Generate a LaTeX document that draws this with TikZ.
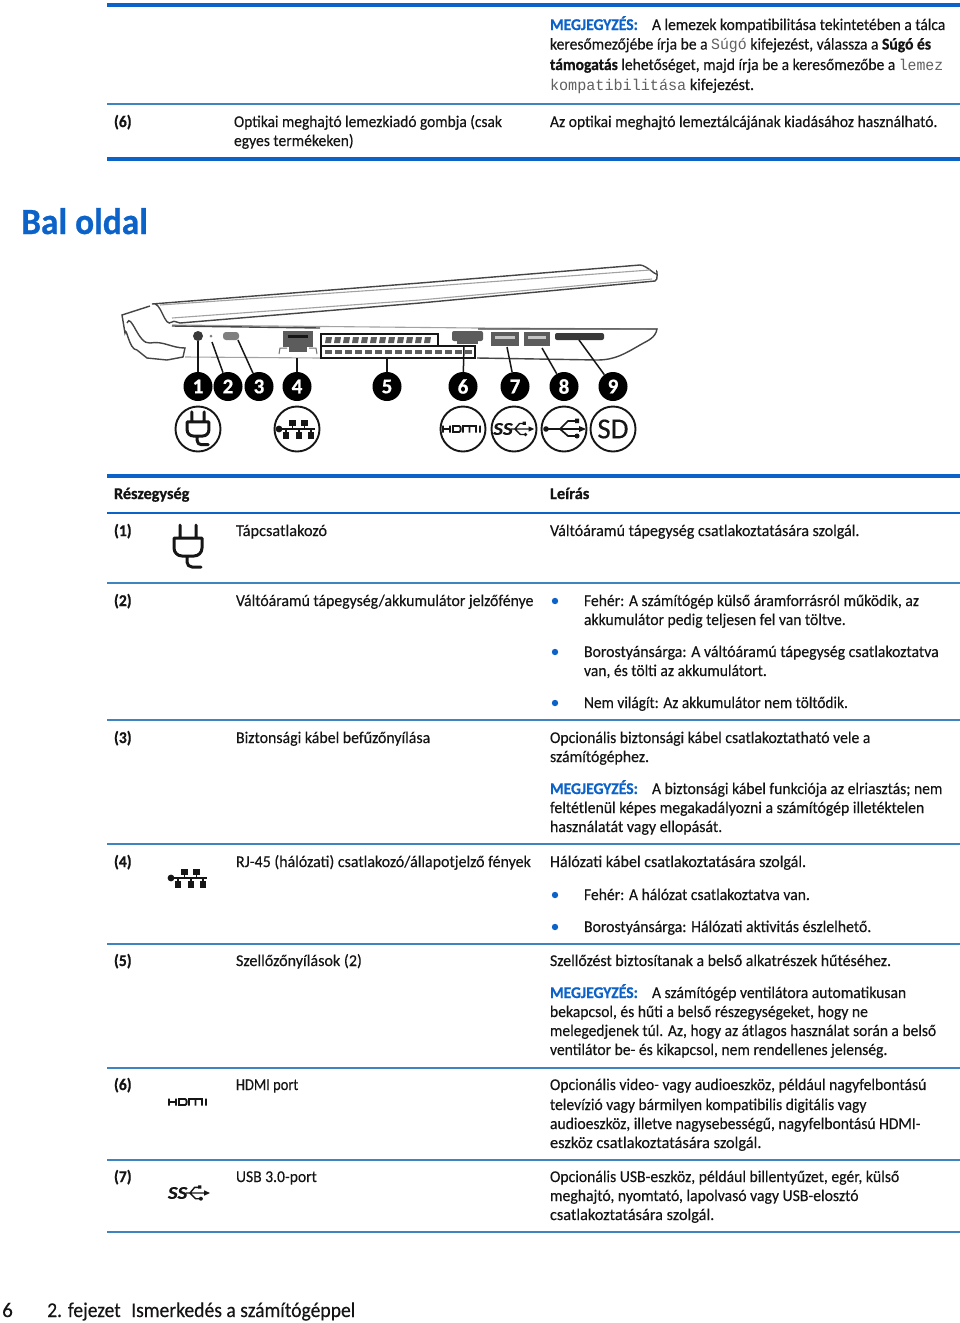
\documentclass[tikz,border=0pt]{standalone}
\usepackage{fontspec}
\usepackage{graphicx}
\setmainfont{Carlito}[FakeBold=0.25,BoldFeatures={FakeBold=0.7}]
\newfontfamily\codefont{Liberation Mono}
\definecolor{hpblue}{HTML}{0B62C8}
\definecolor{rulethin}{HTML}{3F84BE}
\definecolor{inktext}{HTML}{141414}
\definecolor{codegray}{HTML}{606060}
\definecolor{ink}{HTML}{161616}
\newcounter{tn}
\newcommand{\bodysize}{\fontsize{16.4}{19}\selectfont}
\newcommand{\TL}[4][0.952]{\stepcounter{tn}\node[txt] (t\arabic{tn}) at (#2,#3) {\scalebox{#1}[1]{#4}};}
\newcommand{\MG}{\textcolor{hpblue}{\textbf{MEGJEGYZÉS:}}}
\newcommand{\CD}[1]{\textcolor{codegray}{{\codefont\fontsize{15.6}{19}\selectfont #1}}}
\tikzset{
  txt/.style={anchor=base west,inner sep=0pt,outer sep=0pt,font=\bodysize,text=inktext},
  thickrule/.style={draw=hpblue,line width=4pt},
  midrule/.style={draw=hpblue,line width=2.4pt},
  thinrule/.style={draw=rulethin,line width=1.2pt},
  bull/.style={circle,fill=hpblue,inner sep=0pt,minimum size=6.4pt},
  callout/.style={circle,fill=black,inner sep=0pt,minimum size=29pt,text=white,font=\fontsize{21}{21}\selectfont\bfseries},
  leader/.style={draw=ink,line width=1.5pt},
  iconring/.style={circle,draw=ink,line width=1.9pt,fill=white,minimum size=45pt,inner sep=0pt},
  lap/.style={draw=ink!80,line width=1.4pt},
  lapl/.style={draw=ink!40,line width=1.1pt},
  plugicon/.pic={
    \draw[ink,line width=3pt,line cap=round,line join=round]
      (-8,-22)--(-8,-9) (8,-22)--(8,-9)
      (-14,-9)--(14,-9)--(14,1) to[out=-90,in=0] (6,9)--(-6,9) to[out=180,in=-90] (-14,1)--cycle
      (-1,9)--(-1,15) to[out=-90,in=180] (4,20)--(13,20);
  },
  neticon/.pic={
    \draw[ink,line width=1.7pt] (-18,0)--(18,0) (-11,0)--(-11,7) (2,0)--(2,7) (14,0)--(14,7) (-4.5,0)--(-4.5,-7) (7.5,0)--(7.5,-7);
    \fill[ink] (-18,0) circle (3.4);
    \foreach \cx in {-11,2,14}{\fill[ink] (\cx-3.2,3) rectangle (\cx+3.2,9.5);}
    \foreach \cx in {-4.5,7.5}{\fill[ink] (\cx-3.2,-9.5) rectangle (\cx+3.2,-3);}
  },
  hdmiicon/.pic={
    \draw[ink,line width=1.9pt]
      (-20,-3.5)--(-20,3.5) (-13,-3.5)--(-13,3.5) (-20,0)--(-13,0)
      (-10,-3)--(-4,-3) to[out=0,in=0] (-4,3)--(-10,3)--cycle
      (0,3.5)--(0,-3)--(13,-3)--(13,3.5) (6.5,-3)--(6.5,3.5)
      (17,-3.5)--(17,3.5);
  },
  ssicon/.pic={
    \node[inner sep=0pt,font=\fontsize{18}{18}\selectfont\bfseries\itshape,text=ink] (ss) at (-12,0) {\scalebox{1.15}[1]{SS}};
    \draw[ink,line width=1.4pt] (-3,0)--(17,0) (1,0)--(6,-6)--(10,-6) (1,0)--(7,6)--(11,6);
    \fill[ink] (22,0)--(16,-2.8)--(16,2.8)--cycle (9.5,-8) rectangle (13,-4.5);
    \fill[ink] (12.5,6) circle (2.1);
  },
  usbicon/.pic={
    \draw[ink,line width=1.7pt] (-18,0)--(17,0) (-4,0)--(4,-8)--(11,-8) (-4,0)--(4,7)--(11,7);
    \fill[ink] (-18,0) circle (2.8) (22,0)--(15,-3)--(15,3)--cycle (11,-10.5) rectangle (15,-6);
    \fill[ink] (13,7) circle (2.5);
  }
}
\begin{document}
\begin{tikzpicture}[x=1pt,y=-1pt]
\useasboundingbox (0,0) rectangle (960,1323);
\fill[white] (0,0) rectangle (960,1323);
% rules
\draw[thickrule] (107,5)--(960,5);
\draw[thinrule] (107,104)--(960,104);
\draw[thickrule] (107,159)--(960,159);
\draw[thickrule] (107,476)--(960,476);
\draw[midrule] (107,513)--(960,513);
\foreach \ry in {583,720,844,944,1068,1160,1232}{\draw[thinrule] (107,\ry)--(960,\ry);}
% top block
\TL{550}{30}{\MG}
\TL[0.949]{652}{30}{A lemezek kompatibilitása tekintetében a tálca}
\TL{550}{49.5}{keresőmezőjébe írja be a \CD{Súgó} kifejezést, válassza a \textbf{Súgó és}}
\TL[0.95]{550}{70}{\textbf{támogatás} lehetőséget, majd írja be a keresőmezőbe a \CD{lemez}}
\TL[0.971]{550}{90}{\CD{kompatibilitása} kifejezést.}
\TL{114}{127}{\textbf{(6)}}
\TL[0.941]{234}{127}{Optikai meghajtó lemezkiadó gombja (csak}
\TL{234}{146}{egyes termékeken)}
\TL{550}{127}{Az optikai meghajtó lemeztálcájának kiadásához használható.}
% heading
\node[anchor=base west,inner sep=0pt,text=hpblue,font=\fontsize{37}{37}\selectfont\bfseries] (heading) at (21,234) {\scalebox{0.955}[1]{Bal oldal}};
% laptop lid
\draw[lap] (152,304) -- (420,283) -- (640,265) to[out=0,in=-80] (657,272) to[out=100,in=0] (655,281) -- (420,303) -- (180,323) to[out=180,in=40] (172,322) to[out=220,in=20] (152,304);
\draw[lapl] (160,305) -- (420,287) -- (650,270);
\draw[lapl] (172,318) -- (420,300) -- (652,279);
% laptop base
\draw[lap] (150,306) -- (122,315) -- (125,333) to[out=80,in=180] (137,350) -- (147,358) -- (167,360) -- (183,357) -- (185,348) to[out=180,in=10] (150,343) to[out=190,in=70] (127,323);
\draw[lapl] (172,325) -- (477,328) -- (657,329);
\draw[lap] (172,326) -- (320,328);
\draw[lap] (478,329) -- (657,329) to[out=260,in=30] (640,345) to[out=210,in=0] (597,360) -- (477,358);
\draw[lapl] (185,357) -- (320,358);
% ports
\fill[ink!85] (198,336) circle (5);
\fill[ink!55] (211,336) circle (1.5);
\fill[ink!55,rounded corners=3pt] (223,332) rectangle (239,340);
\fill[ink!70] (283,331) rectangle (313,347);
\fill[ink!70] (289,347) rectangle (307,352);
\fill[ink] (288,335) rectangle (308,338);
\draw[ink!60,line width=1pt] (279,354)--(280,348)--(287,348) (317,354)--(316,348)--(309,348);
\fill[ink!70,rounded corners=2pt] (452,331) rectangle (483,341);
\fill[ink!70] (457,341) rectangle (478,344);
\fill[ink!70] (491,332) rectangle (519,346);
\fill[ink!70] (524,332) rectangle (550,346);
\fill[ink!25] (495,336) rectangle (515,339);
\fill[ink!25] (528,336) rectangle (546,339);
\fill[ink!85,rounded corners=2pt] (555,333) rectangle (604,340);
% vent
\draw[ink,line width=1.6pt] (321,334) rectangle (438,346);
\draw[ink,line width=1.6pt] (321,346) rectangle (475,358);
\foreach \vx in {325,334,...,428}{\fill[ink!70] (\vx+1,337) -- (\vx+7,337) -- (\vx+6,343) -- (\vx,343) -- cycle;}
\foreach \vx in {325,335,...,465}{\fill[ink!70] (\vx,350) rectangle (\vx+7,354);}
% callouts
\node[callout] (c1) at (198,386.5) {1};
\node[callout] (c2) at (228,386.5) {2};
\node[callout] (c3) at (259,386.5) {3};
\node[callout] (c4) at (297,386.5) {4};
\node[callout] (c5) at (387,386.5) {5};
\node[callout] (c6) at (463,386.5) {6};
\node[callout] (c7) at (515,386.5) {7};
\node[callout] (c8) at (564,386.5) {8};
\node[callout] (c9) at (613,386.5) {9};
\coordinate (p1) at (198,341);
\coordinate (p2) at (212,342);
\coordinate (p3) at (238,340);
\coordinate (p4) at (297,358);
\coordinate (p5) at (387,358);
\coordinate (p6) at (464,345);
\coordinate (p7) at (507,347);
\coordinate (p8) at (542,348);
\coordinate (p9) at (579,340);
\foreach \n in {1,...,9}{\draw[leader] (p\n) -- (c\n);}
% icon rings
\node[iconring] (r1) at (198,429) {};
\node[iconring] (r4) at (297,429) {};
\node[iconring] (r6) at (463,429) {};
\node[iconring] (r7) at (514,429) {};
\node[iconring] (r8) at (564,429) {};
\node[iconring] (r9) at (613,429) {\fontsize{29}{29}\selectfont\color{ink}SD};
\pic[scale=.78] at (198,429) {plugicon};
\pic at (297,429) {neticon};
\pic at (463,429) {hdmiicon};
\pic[scale=.92] at (514,429) {ssicon};
\pic at (564,429) {usbicon};
% table head
\TL[0.99]{114}{499}{\textbf{Részegység}}
\TL[1.0]{550}{499}{\textbf{Leírás}}
% row 1
\TL{114}{536}{\textbf{(1)}}
\pic at (188,547) {plugicon};
\TL[0.996]{236}{536}{Tápcsatlakozó}
\TL[0.977]{550}{536}{Váltóáramú tápegység csatlakoztatására szolgál.}
% row 2
\TL{114}{606}{\textbf{(2)}}
\TL[0.962]{236}{606}{Váltóáramú tápegység/akkumulátor jelzőfénye}
\node[bull] (b1) at (555,601) {};
\TL{584}{606}{Fehér: A számítógép külső áramforrásról működik, az}
\TL{584}{625}{akkumulátor pedig teljesen fel van töltve.}
\node[bull] (b2) at (555,652) {};
\TL[0.963]{584}{657}{Borostyánsárga: A váltóáramú tápegység csatlakoztatva}
\TL{584}{676}{van, és tölti az akkumulátort.}
\node[bull] (b3) at (555,703) {};
\TL[0.938]{584}{708}{Nem világít: Az akkumulátor nem töltődik.}
% row 3
\TL{114}{743}{\textbf{(3)}}
\TL[0.967]{236}{743}{Biztonsági kábel befűzőnyílása}
\TL[0.958]{550}{743}{Opcionális biztonsági kábel csatlakoztatható vele a}
\TL[0.964]{550}{762}{számítógéphez.}
\TL{550}{794}{\MG}
\TL{652}{794}{A biztonsági kábel funkciója az elriasztás; nem}
\TL[0.962]{550}{813}{feltétlenül képes megakadályozni a számítógép illetéktelen}
\TL[0.969]{550}{832}{használatát vagy ellopását.}
% row 4
\TL{114}{867}{\textbf{(4)}}
\pic at (189,878) {neticon};
\TL[0.972]{236}{867}{RJ-45 (hálózati) csatlakozó/állapotjelző fények}
\TL[0.979]{550}{867}{Hálózati kábel csatlakoztatására szolgál.}
\node[bull] (b4) at (555,895) {};
\TL{584}{900}{Fehér: A hálózat csatlakoztatva van.}
\node[bull] (b5) at (555,927) {};
\TL[0.962]{584}{932}{Borostyánsárga: Hálózati aktivitás észlelhető.}
% row 5
\TL{114}{966}{\textbf{(5)}}
\TL[0.983]{236}{966}{Szellőzőnyílások (2)}
\TL[0.969]{550}{966}{Szellőzést biztosítanak a belső alkatrészek hűtéséhez.}
\TL{550}{998}{\MG}
\TL{652}{998}{A számítógép ventilátora automatikusan}
\TL{550}{1017}{bekapcsol, és hűti a belső részegységeket, hogy ne}
\TL[0.947]{550}{1036}{melegedjenek túl. Az, hogy az átlagos használat során a belső}
\TL{550}{1055}{ventilátor be- és kikapcsol, nem rendellenes jelenség.}
% row 6
\TL{114}{1090}{\textbf{(6)}}
\pic at (189,1102) {hdmiicon};
\TL[0.881]{236}{1090}{HDMI port}
\TL{550}{1090}{Opcionális video- vagy audioeszköz, például nagyfelbontású}
\TL{550}{1110}{televízió vagy bármilyen kompatibilis digitális vagy}
\TL{550}{1129}{audioeszköz, illetve nagysebességű, nagyfelbontású HDMI-}
\TL[0.999]{550}{1148}{eszköz csatlakoztatására szolgál.}
% row 7
\TL{114}{1182}{\textbf{(7)}}
\pic[scale=.95] at (189,1193) {ssicon};
\TL{236}{1182}{USB 3.0-port}
\TL[0.957]{550}{1182}{Opcionális USB-eszköz, például billentyűzet, egér, külső}
\TL[0.958]{550}{1201}{meghajtó, nyomtató, lapolvasó vagy USB-elosztó}
\TL[0.994]{550}{1220}{csatlakoztatására szolgál.}
% footer
\node[anchor=base west,inner sep=0pt,text=inktext,font=\fontsize{21}{21}\selectfont] (f1) at (2,1317) {6};
\node[anchor=base west,inner sep=0pt,text=inktext,font=\fontsize{21}{21}\selectfont] (f2) at (47,1317) {\scalebox{.93}[1]{2. fejezet}};
\node[anchor=base west,inner sep=0pt,text=inktext,font=\fontsize{21}{21}\selectfont] (f3) at (131,1317) {\scalebox{.935}[1]{Ismerkedés a számítógéppel}};
\end{tikzpicture}
\end{document}
